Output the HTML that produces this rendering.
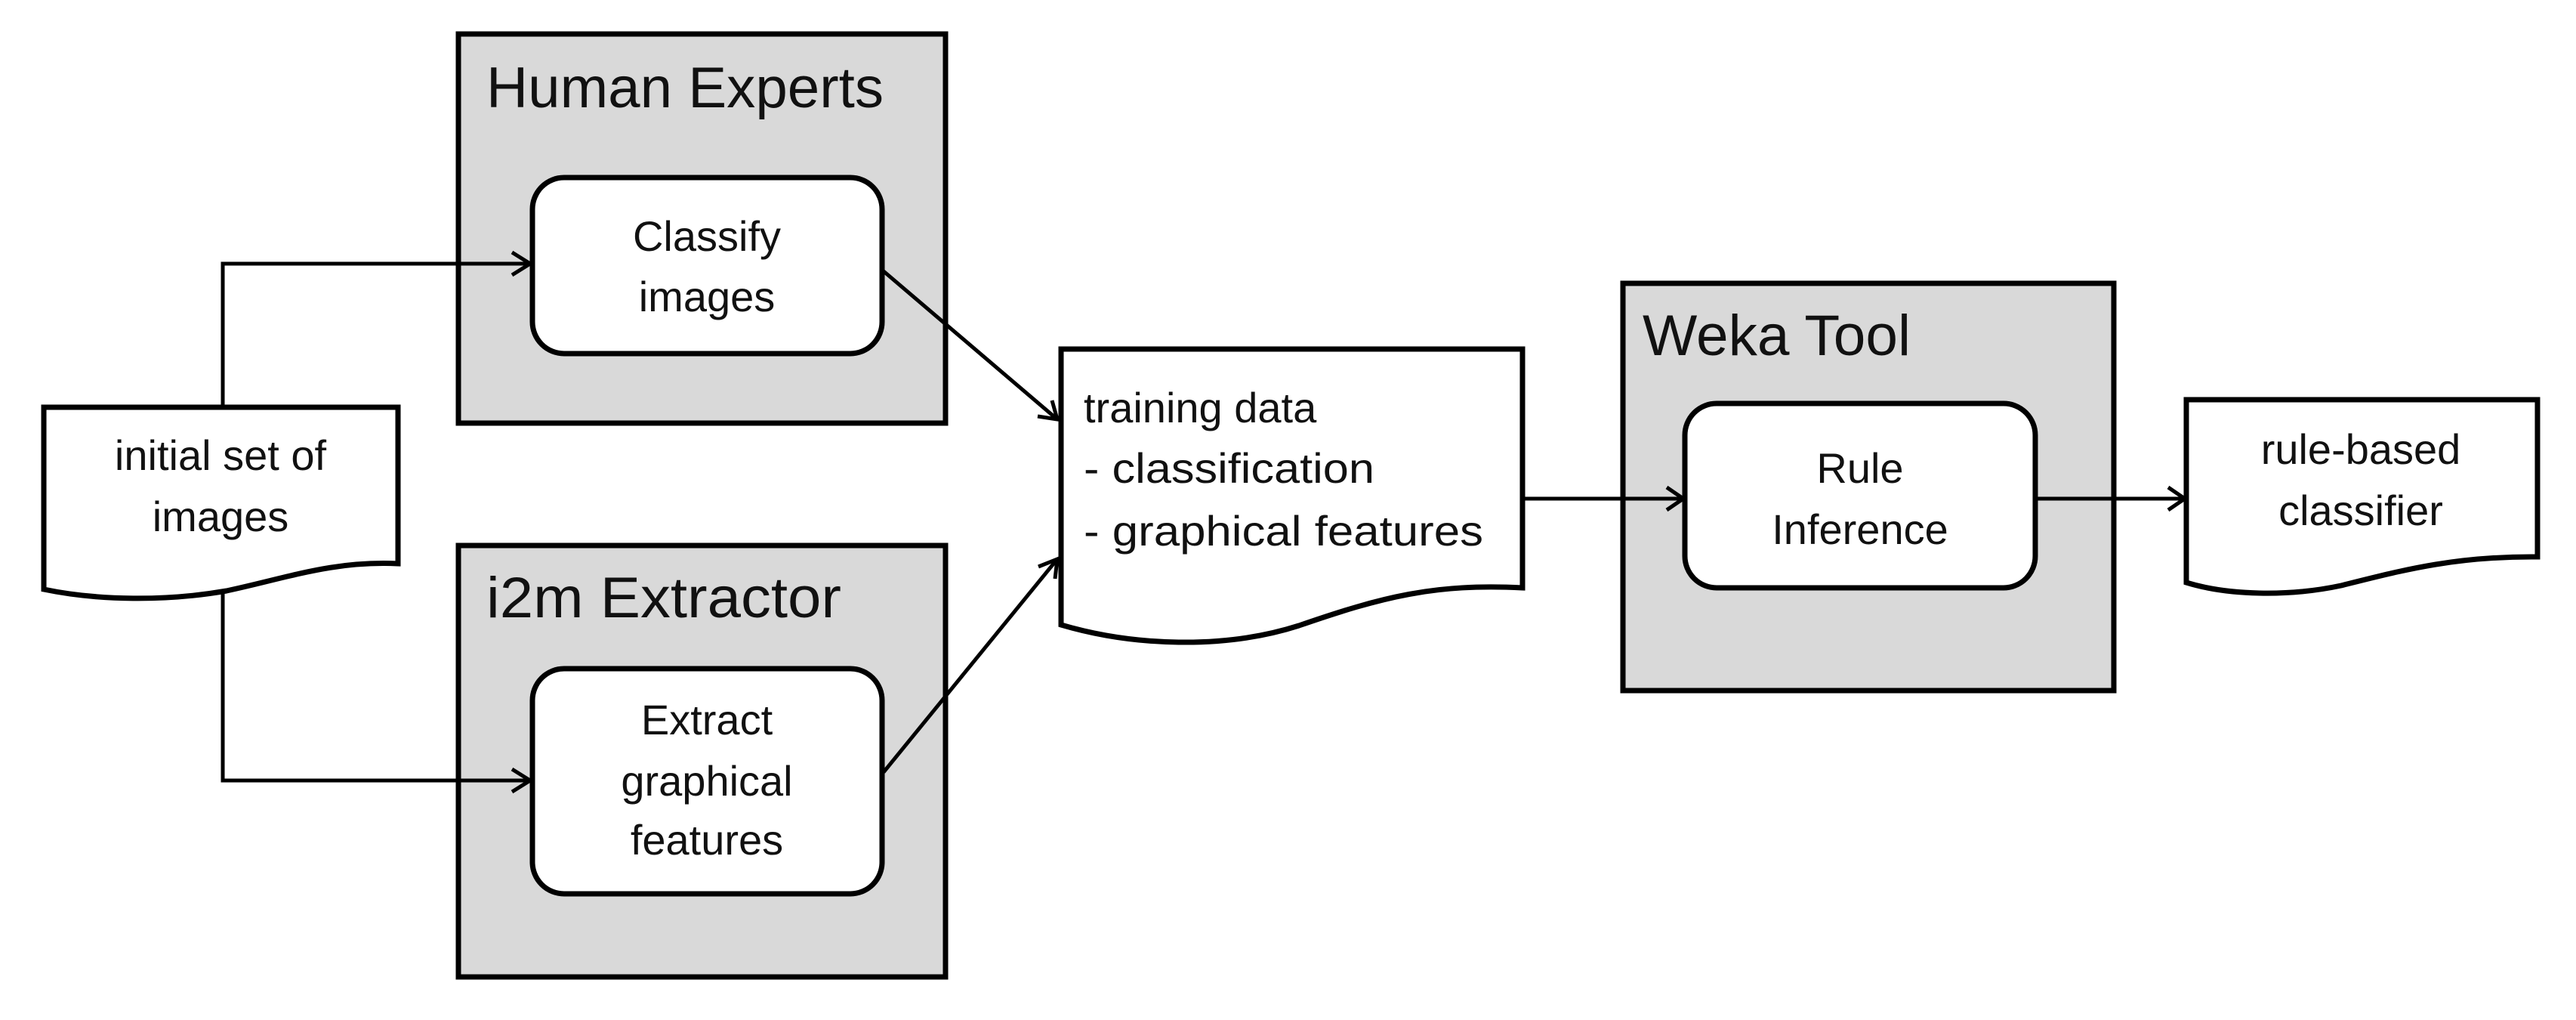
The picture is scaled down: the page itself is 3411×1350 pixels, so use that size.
<!DOCTYPE html>
<html><head><meta charset="utf-8"><style>
html,body{margin:0;padding:0;background:#fff;}
svg{display:block;}
text{font-family:"Liberation Sans",sans-serif;fill:#111;}
</style></head><body>
<svg width="3411" height="1350" viewBox="0 0 3411 1350" xmlns="http://www.w3.org/2000/svg">
<g stroke="#000" stroke-width="7" fill="#d9d9d9">
<rect x="607" y="45" width="645" height="515"/>
<rect x="607" y="722" width="645" height="571"/>
<rect x="2149" y="375" width="650" height="539"/>
</g>
<g stroke="#000" stroke-width="7" fill="#fff">
<rect x="705" y="235" width="463" height="233" rx="42"/>
<rect x="705" y="885" width="463" height="298" rx="42"/>
<rect x="2231" y="534" width="464" height="244" rx="42"/>
<path d="M58,539 L527,539 L527,746 C440,742 380,765 300,782 C220,796 130,795 58,780 Z"/>
<path d="M1405,462 L2016,462 L2016,778 C1900,772 1830,790 1720,828 C1620,860 1500,855 1405,827 Z"/>
<path d="M2895,529 L3360,529 L3360,737 C3250,736 3180,755 3100,775 C3030,790 2950,788 2895,771 Z"/>
</g>
<g stroke="#000" stroke-width="5" fill="none">
<polyline points="295,539 295,349 700,349"/>
<polyline points="295,785 295,1033 700,1033"/>
<polyline points="678,334 702,349 678,364"/>
<polyline points="678,1018 702,1033 678,1048"/>
<line x1="1170" y1="359" x2="1400" y2="555"/>
<polyline points="1374,551 1400,555 1393,530"/>
<line x1="1170" y1="1022" x2="1400" y2="740"/>
<polyline points="1375,750 1400,740 1397,766"/>
<line x1="2016" y1="660" x2="2229" y2="660"/>
<polyline points="2207,645 2229,660 2207,675"/>
<line x1="2695" y1="660" x2="2893" y2="660"/>
<polyline points="2871,645 2893,660 2871,675"/>
</g>
<text x="644" y="142" font-size="76" textLength="526" lengthAdjust="spacingAndGlyphs">Human Experts</text>
<text x="644" y="817" font-size="76" textLength="470" lengthAdjust="spacingAndGlyphs">i2m Extractor</text>
<text x="2175" y="470" font-size="76" textLength="355" lengthAdjust="spacingAndGlyphs">Weka Tool</text>
<g font-size="56" text-anchor="middle">
<text x="936" y="332">Classify</text>
<text x="936" y="412">images</text>
<text x="936" y="972">Extract</text>
<text x="936" y="1053">graphical</text>
<text x="936" y="1131">features</text>
<text x="292" y="622">initial set of</text>
<text x="292" y="703">images</text>
<text x="2463" y="639">Rule</text>
<text x="2463" y="720">Inference</text>
<text x="3126" y="614">rule-based</text>
<text x="3126" y="695">classifier</text>
</g>
<g font-size="56">
<text x="1435" y="559">training data</text>
<text x="1435" y="639" textLength="385" lengthAdjust="spacingAndGlyphs">- classification</text>
<text x="1435" y="722" textLength="529" lengthAdjust="spacingAndGlyphs">- graphical features</text>
</g>
</svg>
</body></html>
